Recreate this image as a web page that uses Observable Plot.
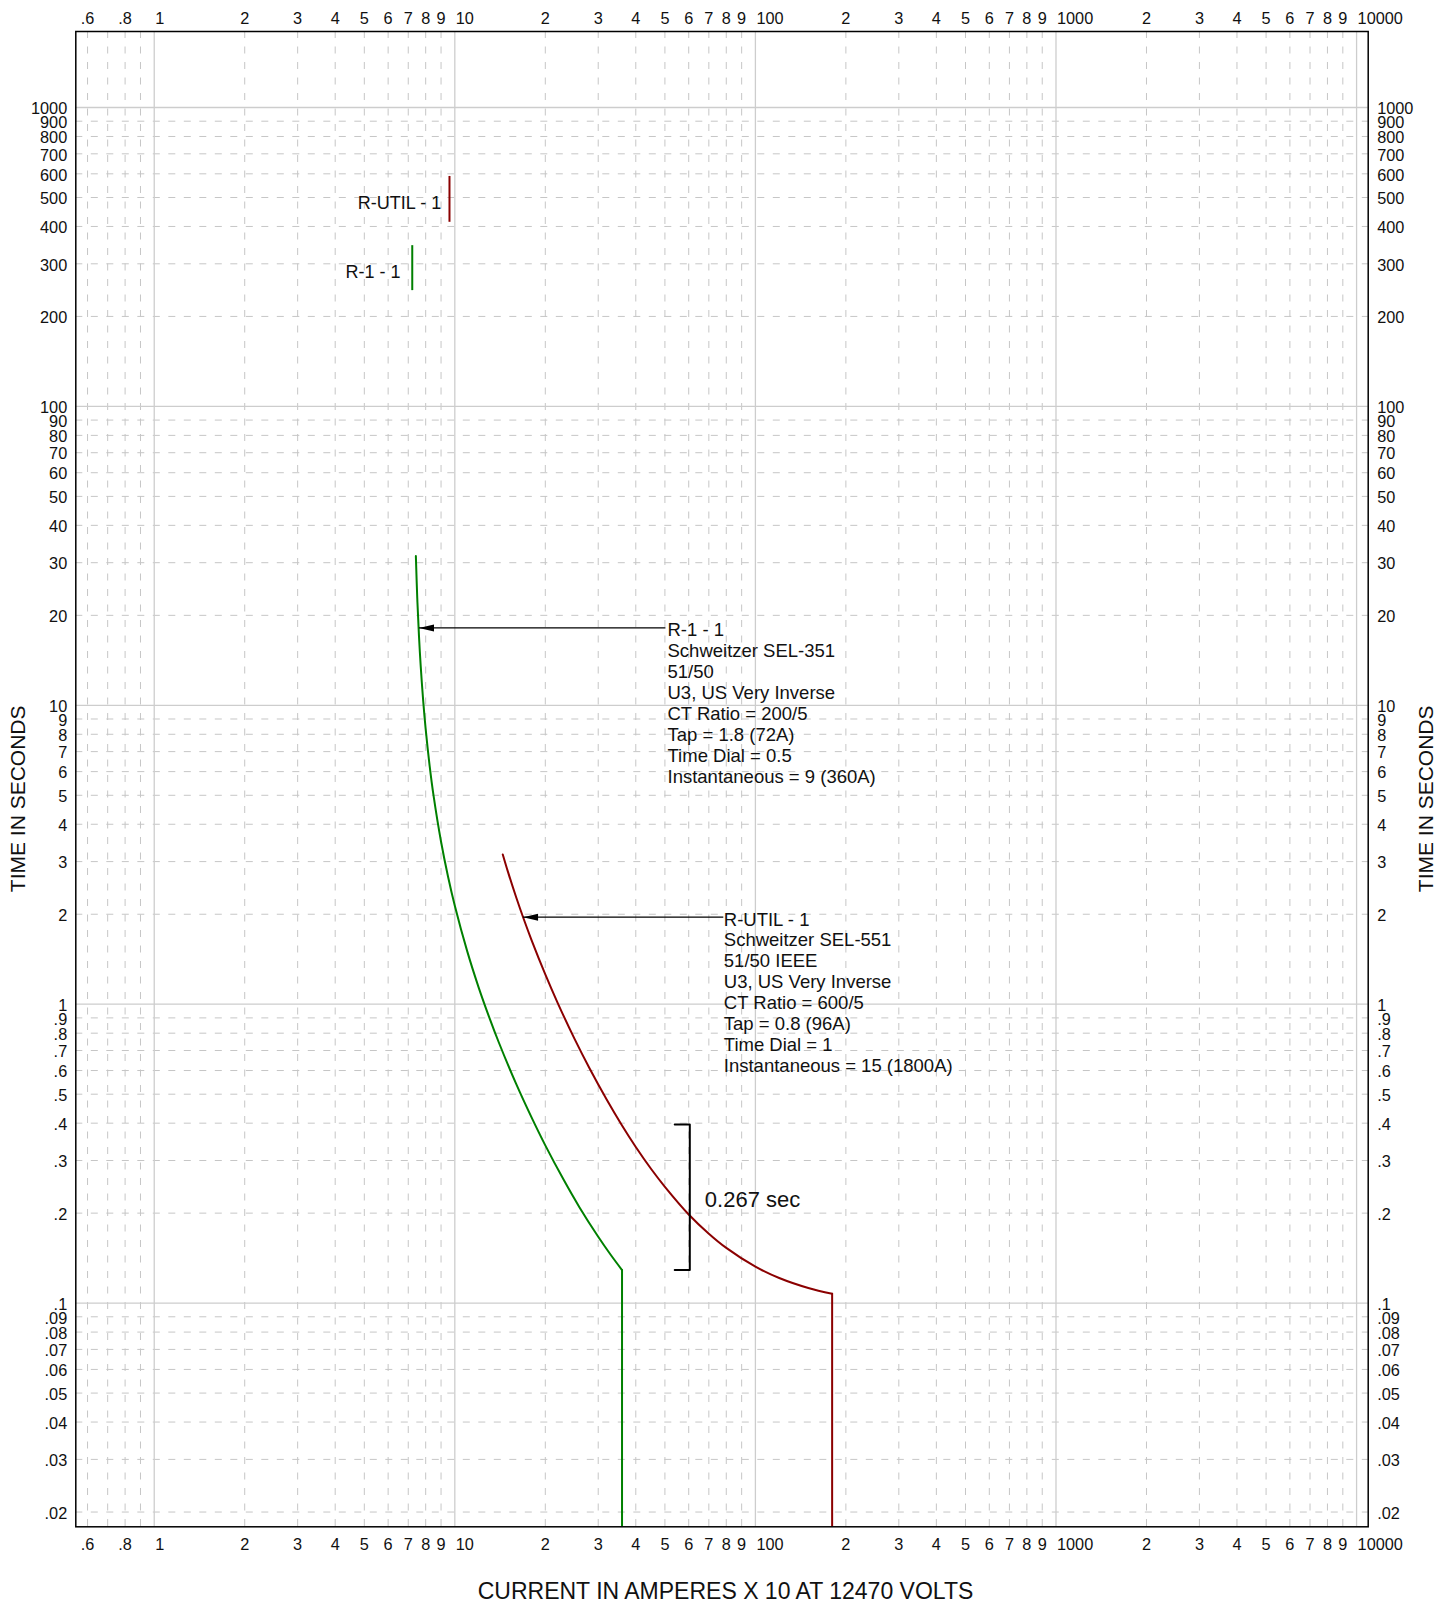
<!DOCTYPE html>
<html>
<head>
<meta charset="utf-8">
<script src="https://cdn.jsdelivr.net/npm/d3@7"></script>
<script src="https://cdn.jsdelivr.net/npm/@observablehq/plot@0.6"></script>
<style>
  html, body { margin: 0; padding: 0; background: #fff; }
  #chart svg { display: block; }
</style>
</head>
<body>
<div id="chart"></div>
<script>
// ---------- Axis ticks and labels ----------
const xTickValues = [0.6, 0.8, 1, 2, 3, 4, 5, 6, 7, 8, 9, 10, 20, 30, 40, 50, 60, 70, 80, 90, 100, 200, 300, 400, 500, 600, 700, 800, 900, 1000, 2000, 3000, 4000, 5000, 6000, 7000, 8000, 9000, 10000];
const xTickLabels = [".6", ".8", "1", "2", "3", "4", "5", "6", "7", "8", "9", "10", "2", "3", "4", "5", "6", "7", "8", "9", "100", "2", "3", "4", "5", "6", "7", "8", "9", "1000", "2", "3", "4", "5", "6", "7", "8", "9", "10000"];
const yTickValues = [1000, 900, 800, 700, 600, 500, 400, 300, 200, 100, 90, 80, 70, 60, 50, 40, 30, 20, 10, 9, 8, 7, 6, 5, 4, 3, 2, 1, 0.9, 0.8, 0.7, 0.6, 0.5, 0.4, 0.3, 0.2, 0.1, 0.09, 0.08, 0.07, 0.06, 0.05, 0.04, 0.03, 0.02];
const yTickLabels = ["1000", "900", "800", "700", "600", "500", "400", "300", "200", "100", "90", "80", "70", "60", "50", "40", "30", "20", "10", "9", "8", "7", "6", "5", "4", "3", "2", "1", ".9", ".8", ".7", ".6", ".5", ".4", ".3", ".2", ".1", ".09", ".08", ".07", ".06", ".05", ".04", ".03", ".02"];

// ---------- Grid lines ----------
const xMajorGrid = [1, 10, 100, 1000, 10000];
const xMinorGrid = [0.6, 0.7, 0.8, 0.9, 2, 3, 4, 5, 6, 7, 8, 9, 20, 30, 40, 50, 60, 70, 80, 90, 200, 300, 400, 500, 600, 700, 800, 900, 2000, 3000, 4000, 5000, 6000, 7000, 8000, 9000];
const yMajorGrid = [0.1, 1, 10, 100, 1000];
const yMinorGrid = [0.02, 0.03, 0.04, 0.05, 0.06, 0.07, 0.08, 0.09, 0.2, 0.3, 0.4, 0.5, 0.6, 0.7, 0.8, 0.9, 2, 3, 4, 5, 6, 7, 8, 9, 20, 30, 40, 50, 60, 70, 80, 90, 200, 300, 400, 500, 600, 700, 800, 900];

// ---------- Curves (current in A x10, time in s) ----------
const r1Current = [7.42, 7.5, 7.6, 7.7, 7.85, 8.0, 8.25, 8.5, 9, 9.5, 10, 11, 12, 13, 14, 16, 18, 20, 23, 26, 30, 33, 36];
const r1Time    = [31.6, 22.85, 17.04, 13.55, 10.33, 8.32, 6.25, 4.975, 3.497, 2.666, 2.136, 1.502, 1.139, 0.907, 0.746, 0.541, 0.418, 0.337, 0.259, 0.209, 0.1667, 0.1451, 0.129];
const r1InstCurrent = [36, 36];
const r1InstTime    = [0.129, 0.0178];

const utilCurrent = [14.44, 15, 16, 17, 18, 20, 22, 25, 28, 32, 36, 40, 45, 50, 60, 70, 80, 100, 120, 150, 180];
const utilTime    = [3.17, 2.788, 2.279, 1.913, 1.639, 1.258, 1.009, 0.767, 0.613, 0.480, 0.393, 0.333, 0.281, 0.245, 0.198, 0.1707, 0.1530, 0.1324, 0.1213, 0.1123, 0.1074];
const utilInstCurrent = [180, 180];
const utilInstTime    = [0.1074, 0.0178];

// ---------- Device tags at top ----------
const tagNames     = ["R-UTIL - 1", "R-1 - 1"];
const tagCurrent   = [9.6, 7.218];
const tagTimeLow   = [413, 244];
const tagTimeHigh  = [588, 345];
const tagLabelX    = [9.01, 6.60];
const tagLabelT    = [477, 281];
const tagColors    = ["#8b0000", "#008000"];

// ---------- Callouts ----------
const noteTexts = [
  "R-1 - 1\nSchweitzer SEL-351\n51/50\nU3, US Very Inverse\nCT Ratio = 200/5\nTap = 1.8 (72A)\nTime Dial = 0.5\nInstantaneous = 9 (360A)",
  "R-UTIL - 1\nSchweitzer SEL-551\n51/50 IEEE\nU3, US Very Inverse\nCT Ratio = 600/5\nTap = 0.8 (96A)\nTime Dial = 1\nInstantaneous = 15 (1800A)"
];
const noteTextX    = [51.0, 78.5];
const noteLineX    = [50.2, 78.2];
const noteTipX     = [7.6, 16.87];
const noteTime     = [18.15, 1.955];

// ---------- Margin bracket ----------
const bracketCurrent = [53.9, 60.5, 60.5, 53.9];
const bracketTime    = [0.396, 0.396, 0.129, 0.129];
const bracketLabel   = ["0.267 sec"];
const bracketLabelX  = [67.9];
const bracketLabelT  = [0.222];

const xTitle = "CURRENT IN AMPERES X 10 AT 12470 VOLTS";
const yTitle = "TIME IN SECONDS";

// ---------- Build tables ----------
const isDecade = (v) => v >= 1 && Math.abs(Math.log10(v) - Math.round(Math.log10(v))) < 1e-9;
const xTicks = xTickValues.map((v, i) => ({v, label: xTickLabels[i]}));
const xTicksDecade = xTicks.filter((d) => isDecade(d.v));
const xTicksOther = xTicks.filter((d) => !isDecade(d.v));
const yTicks = yTickValues.map((v, i) => ({v, label: yTickLabels[i]}));
const r1 = r1Current.map((c, i) => ({c, t: r1Time[i]}));
const r1Inst = r1InstCurrent.map((c, i) => ({c, t: r1InstTime[i]}));
const util = utilCurrent.map((c, i) => ({c, t: utilTime[i]}));
const utilInst = utilInstCurrent.map((c, i) => ({c, t: utilInstTime[i]}));
const tags = tagNames.map((name, i) => ({name, c: tagCurrent[i], lo: tagTimeLow[i], hi: tagTimeHigh[i], lx: tagLabelX[i], lt: tagLabelT[i], color: tagColors[i]}));
const notes = noteTexts.map((text, i) => ({text, tx: noteTextX[i], lx: noteLineX[i], tip: noteTipX[i], t: noteTime[i]}));
const bracket = bracketCurrent.map((c, i) => ({c, t: bracketTime[i]}));
const bracketNote = bracketLabel.map((text, i) => ({text, c: bracketLabelX[i], t: bracketLabelT[i]}));

const fontFamily = "'Liberation Sans', Arial, Helvetica, sans-serif";
const arrowHead = {
  draw(ctx) {
    ctx.moveTo(0, 0);
    ctx.lineTo(15, -3.5);
    ctx.lineTo(15, 3.5);
    ctx.closePath();
  }
};

const minorStyle = {stroke: "#c6c6c6", strokeWidth: 1, strokeDasharray: "7,8.5"};
const majorStyle = {stroke: "#cdcdcd", strokeWidth: 1.3};
const tickText = {text: "label", fontSize: 16.3, fill: "#111"};

const chart = Plot.plot({
  width: 1449,
  height: 1606,
  marginLeft: 75.3,
  marginRight: 81.3,
  marginTop: 31,
  marginBottom: 79.7,
  style: {fontFamily, background: "#fff", color: "#000", overflow: "visible"},
  x: {type: "log", domain: [0.5484, 10931], axis: null},
  y: {type: "log", domain: [0.01785, 1796], axis: null},
  marks: [
    Plot.ruleX(xMinorGrid, minorStyle),
    Plot.ruleY(yMinorGrid, minorStyle),
    Plot.ruleX(xMajorGrid, majorStyle),
    Plot.ruleY(yMajorGrid, majorStyle),

    // device tags near the top
    Plot.ruleX(tags, {x: "c", y1: "lo", y2: "hi", stroke: "color", strokeWidth: 2}),
    Plot.text(tags, {x: "lx", y: "lt", text: "name", textAnchor: "end", fontSize: 18, fill: "#111"}),

    // time-current curves
    Plot.line(r1, {x: "c", y: "t", stroke: "#008000", strokeWidth: 2, curve: "catmull-rom", clip: true}),
    Plot.line(r1Inst, {x: "c", y: "t", stroke: "#008000", strokeWidth: 2, clip: true}),
    Plot.line(util, {x: "c", y: "t", stroke: "#8b0000", strokeWidth: 2, curve: "catmull-rom", clip: true}),
    Plot.line(utilInst, {x: "c", y: "t", stroke: "#8b0000", strokeWidth: 2, clip: true}),

    // callouts
    Plot.link(notes, {x1: "lx", x2: "tip", y1: "t", y2: "t", stroke: "#000", strokeWidth: 1.2}),
    Plot.dot(notes, {x: "tip", y: "t", symbol: arrowHead, fill: "#000", stroke: "none"}),
    Plot.text(notes, {x: "tx", y: "t", text: "text", textAnchor: "start", lineAnchor: "top", dy: -6.5, lineHeight: 1.13, fontSize: 18.5, fill: "#111"}),

    // coordination margin bracket
    Plot.line(bracket, {x: "c", y: "t", stroke: "#000", strokeWidth: 2}),
    Plot.text(bracketNote, {x: "c", y: "t", text: "text", textAnchor: "start", fontSize: 22, fill: "#111"}),

    Plot.frame({stroke: "#000", strokeWidth: 1.5}),

    // tick labels on all four sides (decade labels start at their grid line)
    Plot.text(xTicksOther, {...tickText, x: "v", frameAnchor: "top", lineAnchor: "bottom", textAnchor: "middle", dy: -7.7}),
    Plot.text(xTicksDecade, {...tickText, x: "v", frameAnchor: "top", lineAnchor: "bottom", textAnchor: "start", dx: 1, dy: -7.7}),
    Plot.text(xTicksOther, {...tickText, x: "v", frameAnchor: "bottom", lineAnchor: "top", textAnchor: "middle", dy: 12.1}),
    Plot.text(xTicksDecade, {...tickText, x: "v", frameAnchor: "bottom", lineAnchor: "top", textAnchor: "start", dx: 1, dy: 12.1}),
    Plot.text(yTicks, {...tickText, y: "v", frameAnchor: "left", lineAnchor: "middle", textAnchor: "end", dx: -8.6, dy: 1.5}),
    Plot.text(yTicks, {...tickText, y: "v", frameAnchor: "right", lineAnchor: "middle", textAnchor: "start", dx: 9, dy: 1.5}),

    // axis titles
    Plot.text([yTitle], {text: (d) => d, frameAnchor: "left", textAnchor: "middle", lineAnchor: "middle", rotate: -90, dx: -57.3, dy: 19.7, fontSize: 21, fill: "#111"}),
    Plot.text([yTitle], {text: (d) => d, frameAnchor: "right", textAnchor: "middle", lineAnchor: "middle", rotate: -90, dx: 58.3, dy: 19.7, fontSize: 21, fill: "#111"}),
    Plot.text([xTitle], {text: (d) => d, frameAnchor: "bottom", textAnchor: "middle", lineAnchor: "middle", dx: 3.5, dy: 65, fontSize: 23, fill: "#111"})
  ]
});

document.getElementById("chart").appendChild(chart);
</script>
</body>
</html>
